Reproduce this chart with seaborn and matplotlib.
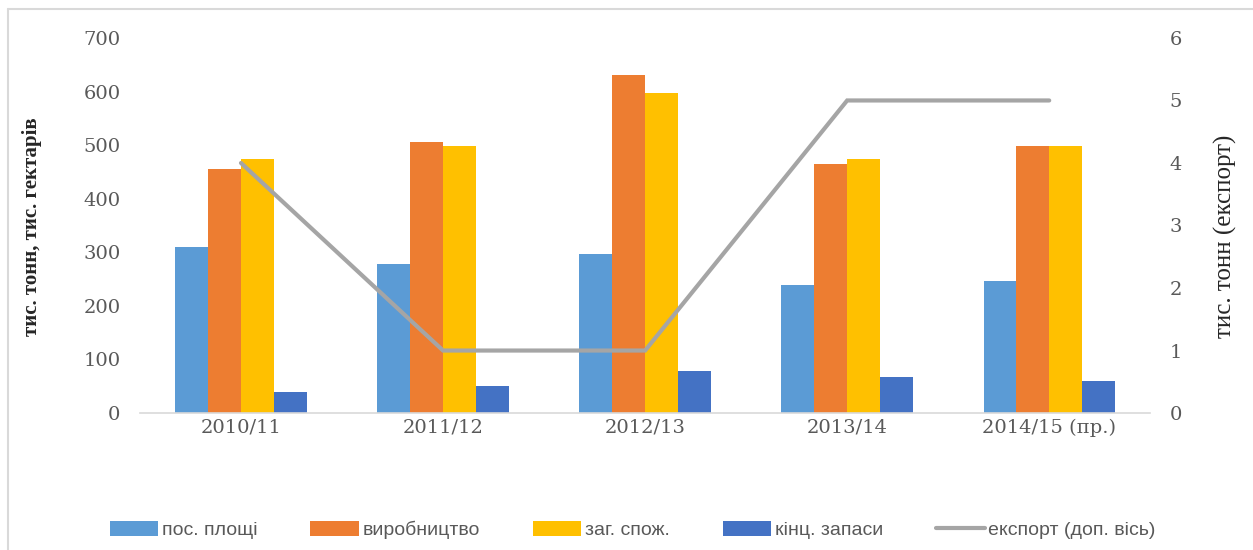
import numpy as np
import pandas as pd
import seaborn as sns
import matplotlib.pyplot as plt
from matplotlib.lines import Line2D
from matplotlib.patches import Patch

###### Données ###################################

seasons = ['2010/11', '2011/12', '2012/13', '2013/14', '2014/15 (пр.)']
pos_ploshchi = [310, 278, 296, 239, 246]
vyrobnytstvo = [455, 505, 630, 465, 498]
zag_spozh = [475, 498, 598, 474, 498]
kinc_zapasy = [39, 50, 79, 67, 60]
eksport = [4, 1, 1, 5, 5]

series_names = ['пос. площі', 'виробництво', 'заг. спож.', 'кінц. запаси']
series_colors = ['#5B9BD5', '#ED7D31', '#FFC000', '#4472C4']
line_name = 'експорт (доп. вісь)'
line_color = '#A5A5A5'

###### Figure ####################################

sns.set_style('white')
plt.rcParams['font.family'] = ['DejaVu Serif']

df = pd.DataFrame({
    'season': seasons * 4,
    'serie': np.repeat(series_names, len(seasons)),
    'value': pos_ploshchi + vyrobnytstvo + zag_spozh + kinc_zapasy,
})

fig = plt.figure(figsize=(12.53, 5.5), dpi=100)
ax = fig.add_axes([0.1117, 0.249, 0.8063, 0.682])

sns.barplot(data=df, x='season', y='value', hue='serie', palette=series_colors,
            width=0.65, gap=0, ax=ax, legend=False, saturation=1,
            edgecolor='none', linewidth=0)
ax.set_xlim(-0.5, len(seasons) - 0.5)
ax.set_ylim(0, 700)
ax.set_yticks(range(0, 701, 100))
ax.set_xlabel('')
ax.set_ylabel('')
ax.tick_params(axis='both', length=0, labelsize=14, colors='#595959')
ax.tick_params(axis='y', pad=14)
ax.tick_params(axis='x', pad=4)
for s in ['top', 'right', 'left']:
    ax.spines[s].set_visible(False)
ax.spines['bottom'].set_color('#D9D9D9')
ax.spines['bottom'].set_linewidth(1.2)

ax2 = ax.twinx()
ax2.plot(np.arange(len(seasons)), eksport, color=line_color, linewidth=3,
         solid_capstyle='round', solid_joinstyle='miter')
ax2.set_ylim(0, 6)
ax2.set_yticks(range(0, 7))
ax2.tick_params(axis='y', length=0, labelsize=14, colors='#595959', pad=14)
for s in ['top', 'right', 'left', 'bottom']:
    ax2.spines[s].set_visible(False)

# titres des axes
fig.text(32 / 1253, 0.587, 'тис. тонн, тис. гектарів', rotation=90, ha='center', va='center',
         family=['Liberation Serif', 'DejaVu Serif'], fontsize=15, fontweight='bold')
fig.text(1225 / 1253, 0.571, 'тис. тонн (експорт)', rotation=90, ha='center', va='center',
         family=['Liberation Serif', 'DejaVu Serif'], fontsize=18)

# légende en bas
handles = [Patch(facecolor=c, edgecolor='none') for c in series_colors]
handles.append(Line2D([0], [0], color=line_color, linewidth=3))
labels = series_names + [line_name]
leg = fig.legend(handles, labels, loc='center', bbox_to_anchor=(0.505, 0.036), ncol=5,
                 frameon=False, handlelength=2.5, handleheight=0.8, handletextpad=0.2,
                 columnspacing=2.7,
                 prop={'family': ['Liberation Sans', 'DejaVu Sans'], 'size': 14})
for t in leg.get_texts():
    t.set_color('#595959')

# cadre gris
fig.add_artist(Line2D([8 / 1253, 8 / 1253], [0, 1 - 9 / 550], color='#D9D9D9', linewidth=1.5))
fig.add_artist(Line2D([8 / 1253, 1], [1 - 9 / 550, 1 - 9 / 550], color='#D9D9D9', linewidth=1.5))

plt.savefig('out.png', dpi=100)
plt.close()
